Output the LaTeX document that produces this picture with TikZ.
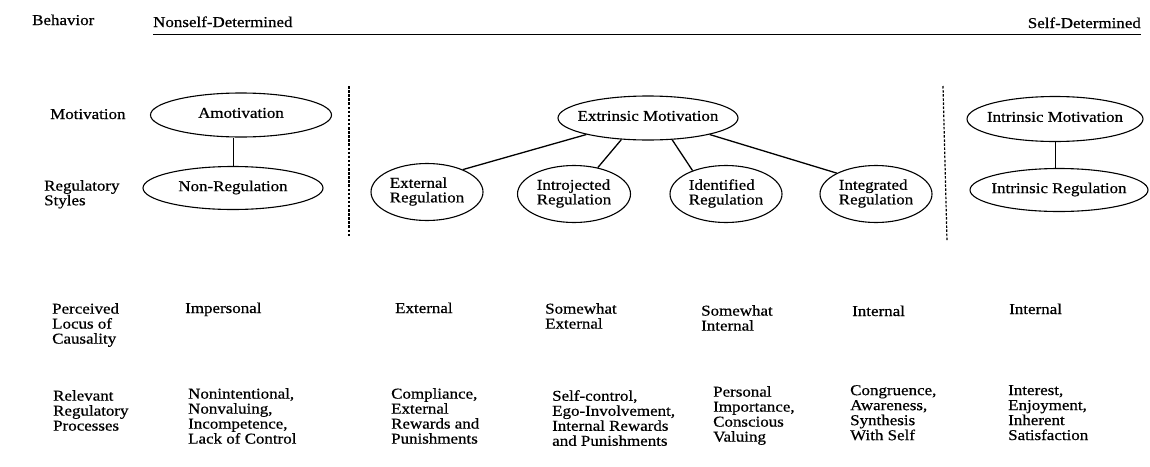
\documentclass[tikz,border=0pt]{standalone}
\usepackage{fontspec}
\setmainfont[FakeStretch=1.13,FakeBold=0.6]{Liberation Serif}
\usetikzlibrary{shapes.geometric}
\newcommand{\ztext}[1]{\makebox[0pt]{\begin{tabular}{@{}l@{}}#1\end{tabular}}}
\begin{document}
\begin{tikzpicture}[x=1pt,y=-1pt,
  lbl/.style={inner sep=0pt, font=\fontsize{15}{15}\selectfont, align=left},
  ell/.style={draw, ellipse, inner sep=0pt, line width=1.1pt, font=\fontsize{15}{14}\selectfont},
  con/.style={line width=1.3pt},
  vcon/.style={line width=1pt},
  sep/.style={line width=1.2pt, dash pattern=on 2.5pt off 1.6pt},
  rule/.style={line width=1pt}
]
\useasboundingbox (0,0) rectangle (1150,466);

% header
\node[lbl, anchor=base west] (beh) at (32,25) {Behavior};
\node[lbl, anchor=base west] (nsd) at (153,27) {Nonself-Determined};
\node[lbl, anchor=base east] (sd) at (1141,28) {Self-Determined};
\coordinate (ruleL) at (153,34);
\coordinate (ruleR) at (1141,34);
\draw[rule] (ruleL) -- (ruleR);

% row labels
\node[lbl, anchor=base west] (mot) at (50,119) {Motivation};
\node[lbl, anchor=north west, font=\fontsize{15}{13.5}\selectfont] (rs) at (44,180) {Regulatory\\Styles};
\node[lbl, anchor=north west] (plc) at (52,303) {Perceived\\Locus of\\Causality};
\node[lbl, anchor=north west] (rrp) at (53,390) {Relevant\\Regulatory\\Processes};

% ellipses
\node[ell, minimum width=181pt, minimum height=44pt] (amo) at (241,115) {\ztext{Amotivation}};
\node[ell, minimum width=180pt, minimum height=43pt] (nonreg) at (233,188) {\ztext{Non-Regulation}};
\node[ell, minimum width=180pt, minimum height=44pt] (em) at (648,118) {\ztext{Extrinsic Motivation}};
\node[ell, minimum width=112pt, minimum height=57pt] (ext) at (427,192) {\ztext{External\\Regulation}};
\node[ell, minimum width=113pt, minimum height=57pt] (intro) at (574,194) {\ztext{Introjected\\Regulation}};
\node[ell, minimum width=112pt, minimum height=57pt] (iden) at (726,194) {\ztext{Identified\\Regulation}};
\node[ell, minimum width=112pt, minimum height=57pt] (integ) at (876,194) {\ztext{Integrated\\Regulation}};
\node[ell, minimum width=176pt, minimum height=45pt] (im) at (1055,119) {\ztext{Intrinsic Motivation}};
\node[ell, minimum width=178pt, minimum height=43pt] (ir) at (1059,190) {\ztext{Intrinsic Regulation}};

% connectors
\draw[vcon] (nonreg.north) -- (nonreg.north |- amo.south);
\draw[vcon] (im.south) -- (im.south |- ir.north);
\draw[con] (em.195) -- (ext.32);
\draw[con] (em.219) -- (intro.48);
\draw[con] (em.318) -- (iden.145);
\draw[con] (em.345) -- (integ.152);

% separators
\coordinate (d1t) at (349,86);
\coordinate (d1b) at (349,236);
\coordinate (d2t) at (943,86);
\coordinate (d2b) at (947,241);
\draw[sep] (d1t) -- (d1b);
\draw[sep] (d2t) -- (d2b);

% perceived locus of causality
\node[lbl, anchor=base west] (p1) at (185,313) {Impersonal};
\node[lbl, anchor=base west] (p2) at (395,313) {External};
\node[lbl, anchor=north west] (p3) at (545,303) {Somewhat\\External};
\node[lbl, anchor=north west] (p4) at (701,305) {Somewhat\\Internal};
\node[lbl, anchor=base west] (p5) at (852,316) {Internal};
\node[lbl, anchor=base west] (p6) at (1009,314) {Internal};

% relevant regulatory processes
\node[lbl, anchor=north west] (r1) at (188,388) {Nonintentional,\\Nonvaluing,\\Incompetence,\\Lack of Control};
\node[lbl, anchor=north west] (r2) at (391,388) {Compliance,\\External\\Rewards and\\Punishments};
\node[lbl, anchor=north west] (r3) at (552,390) {Self-control,\\Ego-Involvement,\\Internal Rewards\\and Punishments};
\node[lbl, anchor=north west] (r4) at (713,386) {Personal\\Importance,\\Conscious\\Valuing};
\node[lbl, anchor=north west] (r5) at (850,385) {Congruence,\\Awareness,\\Synthesis\\With Self};
\node[lbl, anchor=north west] (r6) at (1008,385) {Interest,\\Enjoyment,\\Inherent\\Satisfaction};
\end{tikzpicture}
\end{document}
